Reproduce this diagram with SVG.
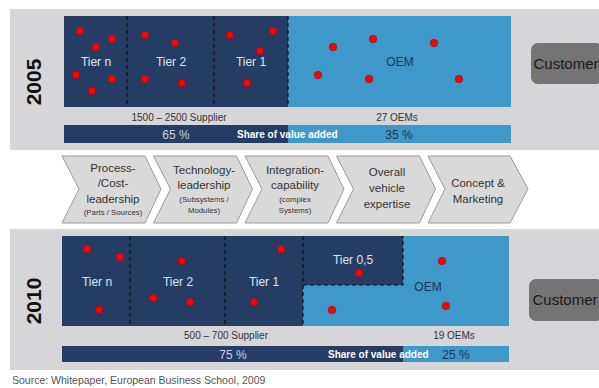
<svg xmlns="http://www.w3.org/2000/svg" width="599" height="388" viewBox="0 0 599 388">
<defs>
<style>
text{font-family:"Liberation Sans",Arial,sans-serif}
.panel{fill:#d6d6d8}
.dark{fill:#253c65}
.light{fill:#3e98c9}
.dash{stroke:#111;stroke-width:1.2;stroke-dasharray:4,3;fill:none}
.dot{fill:#ff0000;stroke:#8a1010;stroke-width:0.6}
.tier{font-size:12px;fill:#dfe5ef;text-anchor:middle}
.oem{font-size:12px;fill:#1e3456;text-anchor:middle}
.cnt{font-size:10px;fill:#333;text-anchor:middle}
.pct{font-size:12px;text-anchor:middle}
.share{font-size:10px;font-weight:bold;fill:#fff}
.year{font-size:21px;font-weight:bold;fill:#111;text-anchor:middle}
.cust{fill:#747474}
.custt{font-size:15px;fill:#1a1a1a;text-anchor:middle}
.chev{fill:#d9d9d9;stroke:#9a9a9a;stroke-width:1}
.ct{font-size:11.5px;fill:#333;text-anchor:middle}
.cs{font-size:7.8px;fill:#333;text-anchor:middle}
</style>
</defs>
<rect width="599" height="388" fill="#ffffff"/>

<g id="panel2005">
<rect class="panel" x="10" y="9" width="589" height="141"/>
<text class="year" transform="translate(41,82) rotate(-90)">2005</text>
<rect class="dark" x="64" y="16" width="224" height="91"/>
<rect class="light" x="288" y="16" width="223" height="91"/>
<line class="dash" x1="127" y1="16" x2="127" y2="107"/>
<line class="dash" x1="214" y1="16" x2="214" y2="107"/>
<line class="dash" x1="288" y1="16" x2="288" y2="107"/>
<text class="tier" x="96" y="66">Tier n</text>
<text class="tier" x="171" y="66">Tier 2</text>
<text class="tier" x="251" y="66">Tier 1</text>
<text class="oem" x="400" y="66">OEM</text>
<g>
<circle class="dot" cx="80" cy="31" r="3.8"/>
<circle class="dot" cx="96" cy="47" r="3.8"/>
<circle class="dot" cx="112" cy="39" r="3.8"/>
<circle class="dot" cx="76" cy="75" r="3.8"/>
<circle class="dot" cx="112" cy="79" r="3.8"/>
<circle class="dot" cx="92" cy="91" r="3.8"/>
<circle class="dot" cx="145" cy="35" r="3.8"/>
<circle class="dot" cx="175" cy="43" r="3.8"/>
<circle class="dot" cx="145" cy="79" r="3.8"/>
<circle class="dot" cx="182" cy="83" r="3.8"/>
<circle class="dot" cx="230" cy="35" r="3.8"/>
<circle class="dot" cx="273" cy="31" r="3.8"/>
<circle class="dot" cx="260" cy="51" r="3.8"/>
<circle class="dot" cx="247" cy="83" r="3.8"/>
<circle class="dot" cx="333" cy="47" r="3.8"/>
<circle class="dot" cx="373" cy="39" r="3.8"/>
<circle class="dot" cx="434" cy="43" r="3.8"/>
<circle class="dot" cx="318" cy="75" r="3.8"/>
<circle class="dot" cx="369" cy="79" r="3.8"/>
<circle class="dot" cx="459" cy="79" r="3.8"/>
</g>
<text class="cnt" x="179" y="121">1500 – 2500 Supplier</text>
<text class="cnt" x="397" y="121">27 OEMs</text>
<rect class="dark" x="64" y="125" width="224" height="18"/>
<rect class="light" x="288" y="125" width="223" height="18"/>
<text class="pct" x="176" y="138.5" fill="#c9d2e0">65 %</text>
<text class="share" x="237" y="137.5">Share of value added</text>
<text class="pct" x="399" y="138.5" fill="#1e3456">35 %</text>
</g>

<g id="customer2005">
<rect class="cust" x="531" y="43" width="72" height="41" rx="7"/>
<text class="custt" x="566" y="69">Customer</text>
</g>

<g id="chevrons">
<g id="chev1">
<polygon class="chev" points="62,156 145,156 161,189 145,223 62,223 79,189"/>
<text class="ct" x="113" y="172">Process-</text>
<text class="ct" x="113" y="187">/Cost-</text>
<text class="ct" x="113" y="203">leadership</text>
<text class="cs" x="113" y="215">(Parts / Sources)</text>
</g>
<g id="chev2">
<polygon class="chev" points="153.5,156 236.5,156 252.5,189 236.5,223 153.5,223 170.5,189"/>
<text class="ct" x="204" y="174">Technology-</text>
<text class="ct" x="204" y="189">leadership</text>
<text class="cs" x="204" y="202">(Subsystems /</text>
<text class="cs" x="204" y="213">Modules)</text>
</g>
<g id="chev3">
<polygon class="chev" points="245,156 328,156 344,189 328,223 245,223 262,189"/>
<text class="ct" x="295" y="174">Integration-</text>
<text class="ct" x="295" y="189">capability</text>
<text class="cs" x="295" y="202">(complex</text>
<text class="cs" x="295" y="213">Systems)</text>
</g>
<g id="chev4">
<polygon class="chev" points="336.5,156 419.5,156 435.5,189 419.5,223 336.5,223 353.5,189"/>
<text class="ct" x="387" y="176">Overall</text>
<text class="ct" x="387" y="192">vehicle</text>
<text class="ct" x="387" y="208">expertise</text>
</g>
<g id="chev5">
<polygon class="chev" points="428,156 510,156 528,189 510,223 428,223 445,189"/>
<text class="ct" x="478" y="187">Concept &amp;</text>
<text class="ct" x="478" y="203">Marketing</text>
</g>
</g>

<g id="panel2010">
<rect class="panel" x="10" y="229" width="589" height="141"/>
<text class="year" transform="translate(41,301) rotate(-90)">2010</text>
<rect class="light" x="62" y="236" width="447" height="90"/>
<polygon class="dark" points="62,236 403,236 403,285 303,285 303,326 62,326"/>
<line class="dash" x1="130" y1="236" x2="130" y2="326"/>
<line class="dash" x1="225" y1="236" x2="225" y2="326"/>
<line class="dash" x1="303" y1="236" x2="303" y2="326"/>
<polyline class="dash" points="303,285 403,285 403,236"/>
<text class="tier" x="97" y="286">Tier n</text>
<text class="tier" x="178" y="286">Tier 2</text>
<text class="tier" x="264" y="286">Tier 1</text>
<text class="tier" x="353" y="264">Tier 0,5</text>
<text class="oem" x="428" y="291">OEM</text>
<g>
<circle class="dot" cx="87" cy="249" r="3.8"/>
<circle class="dot" cx="120" cy="257" r="3.8"/>
<circle class="dot" cx="99" cy="310" r="3.8"/>
<circle class="dot" cx="182" cy="261" r="3.8"/>
<circle class="dot" cx="153" cy="298" r="3.8"/>
<circle class="dot" cx="190" cy="302" r="3.8"/>
<circle class="dot" cx="281" cy="249" r="3.8"/>
<circle class="dot" cx="254" cy="302" r="3.8"/>
<circle class="dot" cx="359" cy="273" r="3.8"/>
<circle class="dot" cx="442" cy="261" r="3.8"/>
<circle class="dot" cx="332" cy="310" r="3.8"/>
<circle class="dot" cx="446" cy="306" r="3.8"/>
</g>
<text class="cnt" x="226" y="339">500 – 700 Supplier</text>
<text class="cnt" x="454" y="339">19 OEMs</text>
<rect class="dark" x="62" y="346" width="341" height="16"/>
<rect class="light" x="403" y="346" width="106" height="16"/>
<text class="pct" x="233" y="358.5" fill="#c9d2e0">75 %</text>
<text class="share" x="328" y="357.5">Share of value added</text>
<text class="pct" x="456" y="358.5" fill="#1e3456">25 %</text>
</g>

<g id="customer2010">
<rect class="cust" x="529" y="279" width="74" height="42" rx="7"/>
<text class="custt" x="565" y="305">Customer</text>
</g>

<text x="12" y="384" font-size="10.5" fill="#555">Source: Whitepaper, European Business School, 2009</text>
</svg>
